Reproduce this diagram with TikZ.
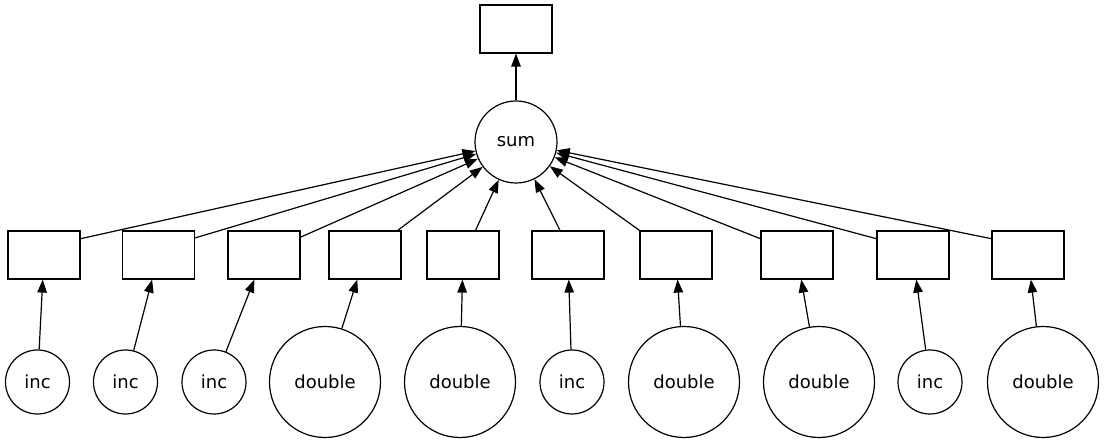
\documentclass[tikz,border=0pt]{standalone}
\usepackage{fontspec}
\setsansfont{DejaVu Sans}
\usepackage{tikz}
\usetikzlibrary{positioning,arrows.meta}

\begin{document}
\begin{tikzpicture}[x=1pt, y=-1pt, line width=1.2pt,
		font=\sffamily\fontsize{18}{20}\selectfont,
		>={Triangle[length=13pt,width=9.5pt]},
		task/.style={draw, minimum width=72pt, minimum height=48pt, inner sep=0pt},
		opnode/.style={draw, circle, inner sep=0pt},
		incnode/.style={opnode, minimum size=64pt},
		dblnode/.style={opnode, minimum size=111pt}]
		\useasboundingbox (0,0) rectangle (1104,443);
		\node[task] (res) at (516,29) {};
		\node[opnode, minimum size=82pt] (sum) at (516,142) {sum};
		\draw[->] (sum) -- (res);
		% one task box per input, fed by an inc or double node
		\foreach \i/\bx/\cx/\kind/\lbl/\ang in {1/44/37.5/incnode/inc/24, 2/158.5/125.5/incnode/inc/25,
				3/264/214/incnode/inc/26, 4/365/325/dblnode/double/37, 5/463/460/dblnode/double/63,
				6/568/572/incnode/inc/108, 7/676/684/dblnode/double/146, 8/797/819/dblnode/double/156,
				9/913/930/incnode/inc/156, 10/1028/1043/dblnode/double/156}{
			\node[task] (box\i) at (\bx,255) {};
			\node[\kind] (fn\i) at (\cx,382) {\lbl};
			\draw[->] (fn\i) -- (box\i);
			\draw[->] (box\i.\ang) -- (sum);
		}
	\end{tikzpicture}
\end{document}
